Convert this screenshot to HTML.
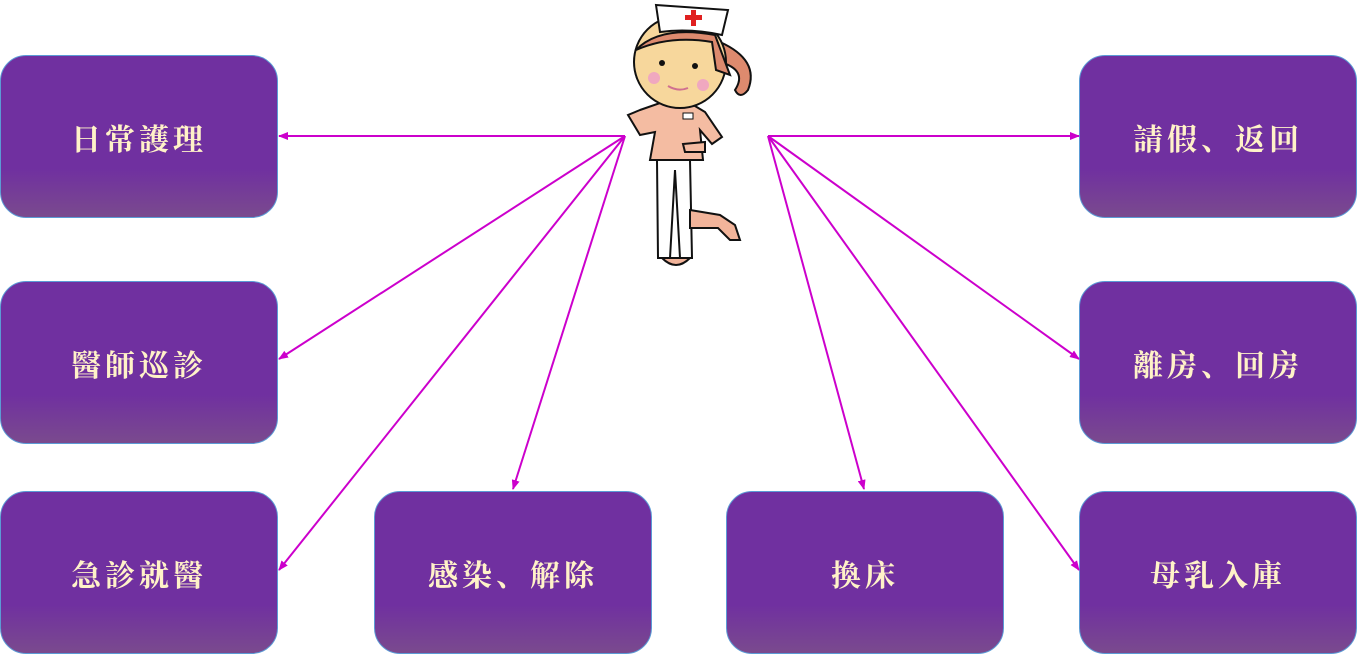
<!DOCTYPE html>
<html><head><meta charset="utf-8"><style>
body{margin:0;width:1358px;height:654px;background:#fff;position:relative;overflow:hidden}
.b{position:absolute;width:278px;height:163px;border:1px solid #5b9bd5;border-radius:26px;background:linear-gradient(#7030a0 0%,#7030a0 70%,#7a4a8e 100%);color:#fff2c8;font-family:"Noto Serif CJK SC","Liberation Serif",serif;font-weight:bold;font-size:30px;letter-spacing:4px;display:flex;align-items:center;justify-content:center;box-sizing:border-box}
svg{position:absolute;left:0;top:0}
</style></head><body>
<div class="b" style="left:0px;top:55px">日常護理</div>
<div class="b" style="left:0px;top:281px">醫師巡診</div>
<div class="b" style="left:0px;top:491px">急診就醫</div>
<div class="b" style="left:374px;top:491px">感染、解除</div>
<div class="b" style="left:726px;top:491px">換床</div>
<div class="b" style="left:1079px;top:55px">請假、返回</div>
<div class="b" style="left:1079px;top:281px">離房、回房</div>
<div class="b" style="left:1079px;top:491px">母乳入庫</div>
<svg width="1358" height="654">
<defs><marker id="a" markerWidth="10" markerHeight="8" refX="9" refY="4" orient="auto" markerUnits="userSpaceOnUse"><path d="M0,0L10,4L0,8z" fill="#cc00cc"/></marker></defs>
<g stroke="#cc00cc" stroke-width="2" marker-end="url(#a)">
<line x1="625" y1="136" x2="279" y2="136"/>
<line x1="625" y1="136" x2="279" y2="359"/>
<line x1="625" y1="136" x2="279" y2="570"/>
<line x1="625" y1="136" x2="513" y2="489"/>
<line x1="768" y1="136" x2="1079" y2="136"/>
<line x1="768" y1="136" x2="1079" y2="359"/>
<line x1="768" y1="136" x2="1079" y2="570"/>
<line x1="768" y1="136" x2="864" y2="489"/>
</g>
<g stroke="#111" stroke-width="2">
<path d="M657,160 L690,160 L692,258 L680,258 L675,170 L670,258 L658,258 Z" fill="#fff"/>
<path d="M690,210 L720,215 L735,225 L740,240 L730,240 L718,228 L690,228Z" fill="#f2b49a"/>
<path d="M662,258 Q676,272 690,258Z" fill="#f2b49a"/>
<path d="M640,110 L660,103 L690,103 L705,112 L722,137 L712,144 L700,130 L703,160 L650,160 L655,132 L640,135 L628,115Z" fill="#f4bca2"/>
<path d="M683,144 L705,142 L705,152 L685,152Z" fill="#f4bca2"/>
<path d="M720,42 Q760,60 748,90 Q740,100 735,90 Q748,70 720,62Z" fill="#dd8a6e"/>
<circle cx="680" cy="62" r="46" fill="#f7d79c"/>
<path d="M636,50 Q660,25 715,35 L730,75 L716,70 L712,42 Q670,35 636,50Z" fill="#dd8a6e"/>
<path d="M656,5 L728,10 L722,35 Q690,28 660,32Z" fill="#fff"/>
</g>
<path d="M685,15h6v-5h5v5h6v5h-6v6h-5v-6h-6z" fill="#e02020"/>
<circle cx="662" cy="63" r="3" fill="#111"/><circle cx="695" cy="66" r="3" fill="#111"/>
<circle cx="654" cy="78" r="6" fill="#f0a8c0"/><circle cx="703" cy="85" r="6" fill="#f0a8c0"/>
<path d="M668,86 Q678,92 688,88" stroke="#d07090" stroke-width="2" fill="none"/>
<rect x="683" y="113" width="10" height="6" fill="#fff" stroke="#111"/>
</svg>
</body></html>
